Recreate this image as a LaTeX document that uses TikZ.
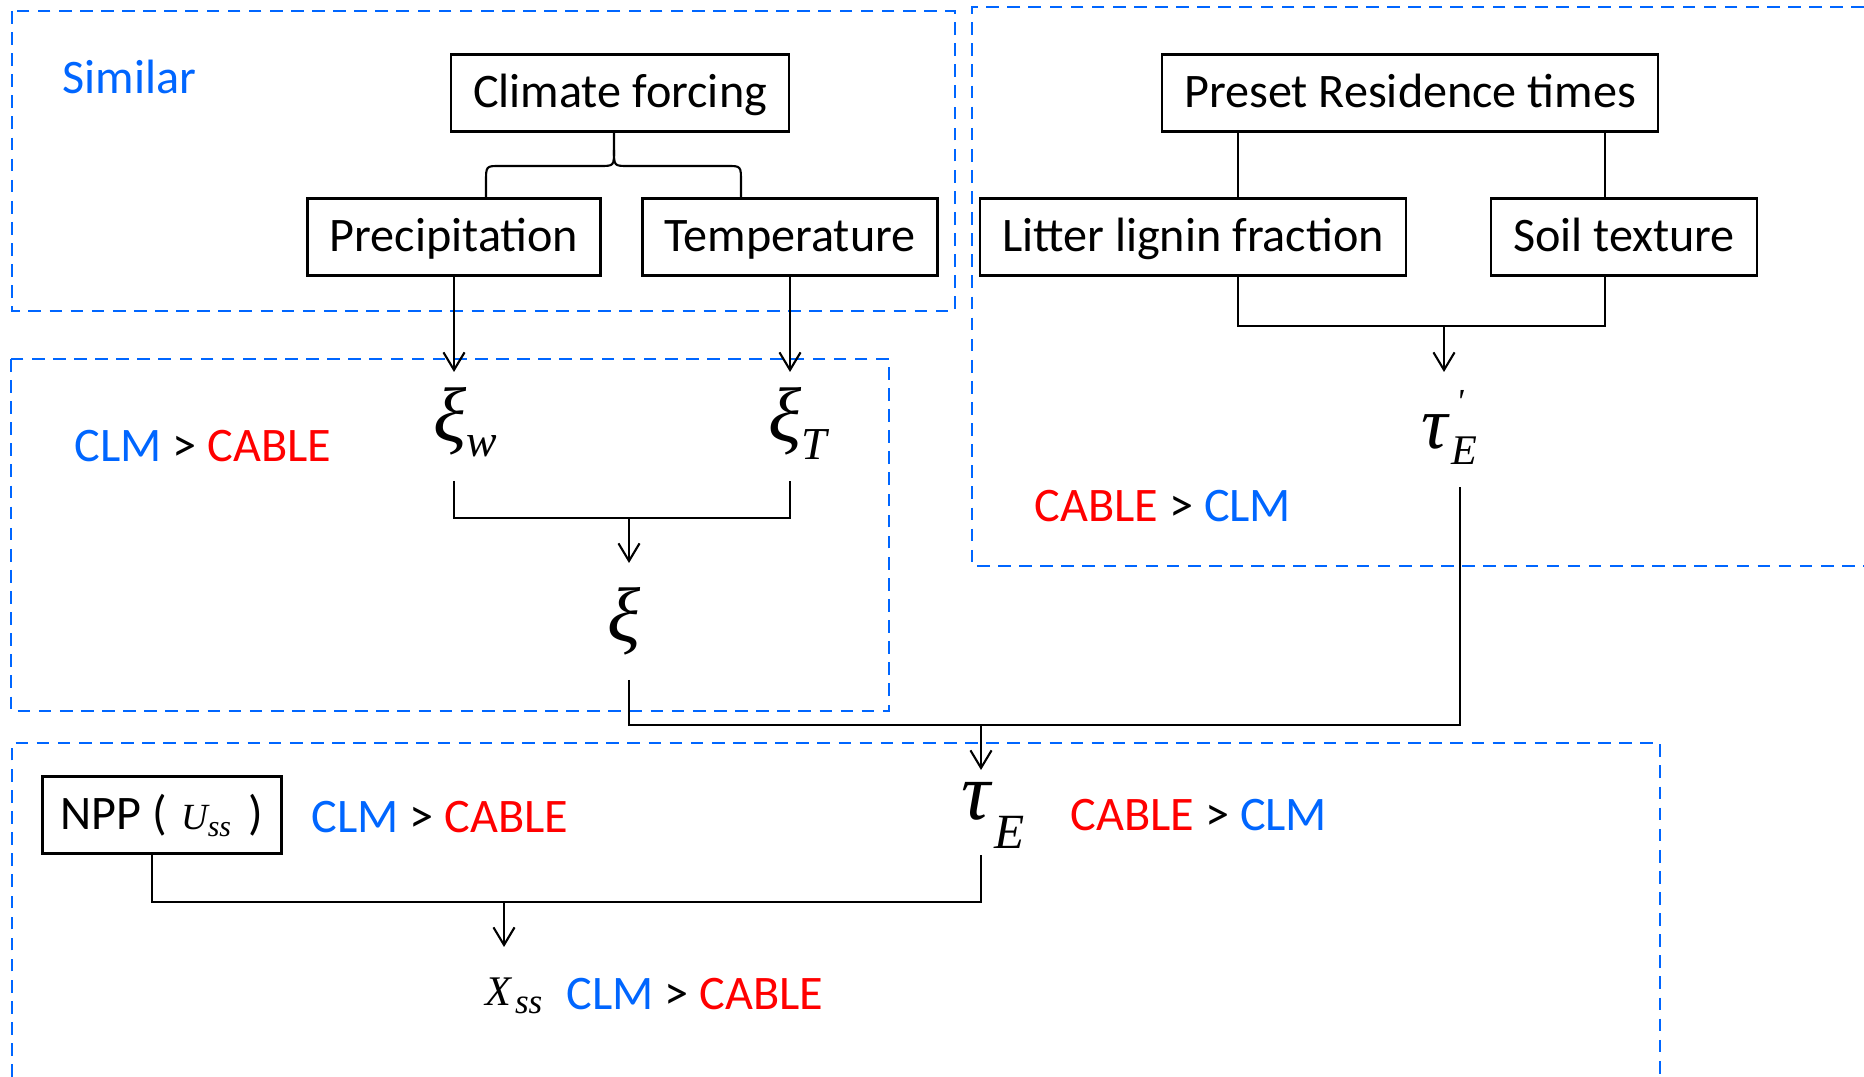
\documentclass[tikz,border=0pt]{standalone}
\usepackage{fontspec}
\setmainfont{Carlito}
\newfontfamily\eqfont{Liberation Serif}
\usetikzlibrary{arrows.meta}
\definecolor{clmblue}{RGB}{0,102,255}
\definecolor{cablered}{RGB}{255,0,0}
\newcommand{\clm}{\textcolor{clmblue}{CLM}}
\newcommand{\cable}{\textcolor{cablered}{CABLE}}
\newcommand{\fs}[1]{\fontsize{#1}{#1}\selectfont}

\begin{document}
\begin{tikzpicture}[x=0.01cm,y=-0.01cm,
    box/.style={draw,line width=0.7pt,inner xsep=0.22cm,minimum height=0.77cm,
        text height=10.5pt,text depth=2pt,font=\fs{13.7}},
    region/.style={draw=clmblue,line width=0.75pt,dash pattern=on 3.6pt off 2.4pt},
    lbl/.style={anchor=base west,inner sep=0pt,font=\fs{13.7}},
    sym/.style={anchor=base west,inner sep=0pt,font=\eqfont\itshape},
    wire/.style={line width=0.6pt},
    arr/.style={-{Straight Barb[length=5pt,width=6pt]}}]
    \useasboundingbox (0,0) rectangle (1864,1077);
    % dashed groups
    \draw[region] (12,11) rectangle (955,311);
    \draw[region] (1864,7) -- (972,7) -- (972,566) -- (1864,566);
    \draw[region] (11,359) rectangle (889,711);
    \draw[region] (12,1077) -- (12,743) -- (1660,743) -- (1660,1077);
    % boxes
    \node[box] (clim) at (620,93) {Climate forcing};
    \node[box] (prec) at (454,237) {Precipitation};
    \node[box] (temp) at (790,237) {Temperature};
    \node[box] (pres) at (1410,93) {Preset Residence times};
    \node[box] (litt) at (1193,237) {Litter lignin fraction};
    \node[box] (soil) at (1624,237) {Soil texture};
    \node[box,inner xsep=0.18cm,minimum width=2.38cm] (npp) at (162,815)
        {NPP (\hspace{4pt}{\eqfont\itshape\fs{10.5}U\raisebox{-2pt}{\fs{8.5}ss}}\hspace{5pt})};
    % symbols
    \node[sym] (xiw) at (433,442) {\fs{22}ξ\raisebox{-4pt}{\fs{13}w}};
    \node[sym] (xiT) at (768,442) {\fs{22}ξ\raisebox{-5pt}{\fs{13}T}};
    \node[sym] (xi) at (607,642) {\fs{22}ξ};
    \node[sym] (taup) at (1421,449) {\fs{21}τ\hspace{1pt}\rlap{\hspace{1.3pt}\raisebox{10pt}{\fs{10}\symbol{"27}}}\raisebox{-4.5pt}{\fs{12}E}};
    \node[sym] (tau) at (961,820) {\fs{23}τ\hspace{1pt}\raisebox{-8pt}{\fs{14}E}};
    \node[sym] (xss) at (485,1005) {\fs{12}X\hspace{1pt}\raisebox{-2.5pt}{\fs{10}ss}};
    % labels
    \node[lbl,text=clmblue] (sim) at (62,94) {Similar};
    \node[lbl] (cmpxi) at (74,462) {\clm{} > \cable};
    \node[lbl] (cmptp) at (1034,522) {\cable{} > \clm};
    \node[lbl] (cmpu) at (311,833) {\clm{} > \cable};
    \node[lbl] (cmptau) at (1070,831) {\cable{} > \clm};
    \node[lbl] (cmpx) at (566,1010) {\clm{} > \cable};
    % junctions and arrow tips
    \coordinate (jb) at (614,150);
    \coordinate (bl) at (486,182);
    \coordinate (br) at (741,182);
    \coordinate (pl) at (1238,0);
    \coordinate (pr) at (1605,0);
    \coordinate (jp) at (1444,326);
    \coordinate (jx) at (629,518);
    \coordinate (jt) at (981,725);
    \coordinate (rt) at (1460,487);
    \coordinate (jc) at (504,902);
    \coordinate (tw) at (454,372);
    \coordinate (tT) at (790,372);
    \coordinate (tp) at (1444,372);
    \coordinate (tx) at (629,563);
    \coordinate (tt) at (981,770);
    \coordinate (tc) at (504,947);
    % climate forcing
    \draw[wire] (clim.south -| jb) -- (jb) .. controls (614,166) .. (600,166) -- (500,166) .. controls (486,166) .. (bl) -- (prec.north -| bl);
    \draw[wire] (jb) .. controls (614,166) .. (628,166) -- (727,166) .. controls (741,166) .. (br) -- (temp.north -| br);
    \draw[wire,arr] (prec.south) -- (tw);
    \draw[wire,arr] (temp.south) -- (tT);
    % residence times
    \draw[wire] (pres.south -| pl) -- (litt.north -| pl);
    \draw[wire] (pres.south -| pr) -- (soil.north -| pr);
    \draw[wire] (litt.south -| pl) |- (jp) -| (soil.south -| pr);
    \draw[wire,arr] (jp) -- (tp);
    % xi
    \draw[wire] (tw |- 0,481) |- (jx) -| (tT |- 0,481);
    \draw[wire,arr] (jx) -- (tx);
    % tau
    \draw[wire] (jx |- 0,680) |- (jt) -| (rt);
    \draw[wire,arr] (jt) -- (tt);
    % carbon
    \draw[wire] (npp.south -| 152,0) |- (jc) -| (tt |- npp.south);
    \draw[wire,arr] (jc) -- (tc);
\end{tikzpicture}
\end{document}
